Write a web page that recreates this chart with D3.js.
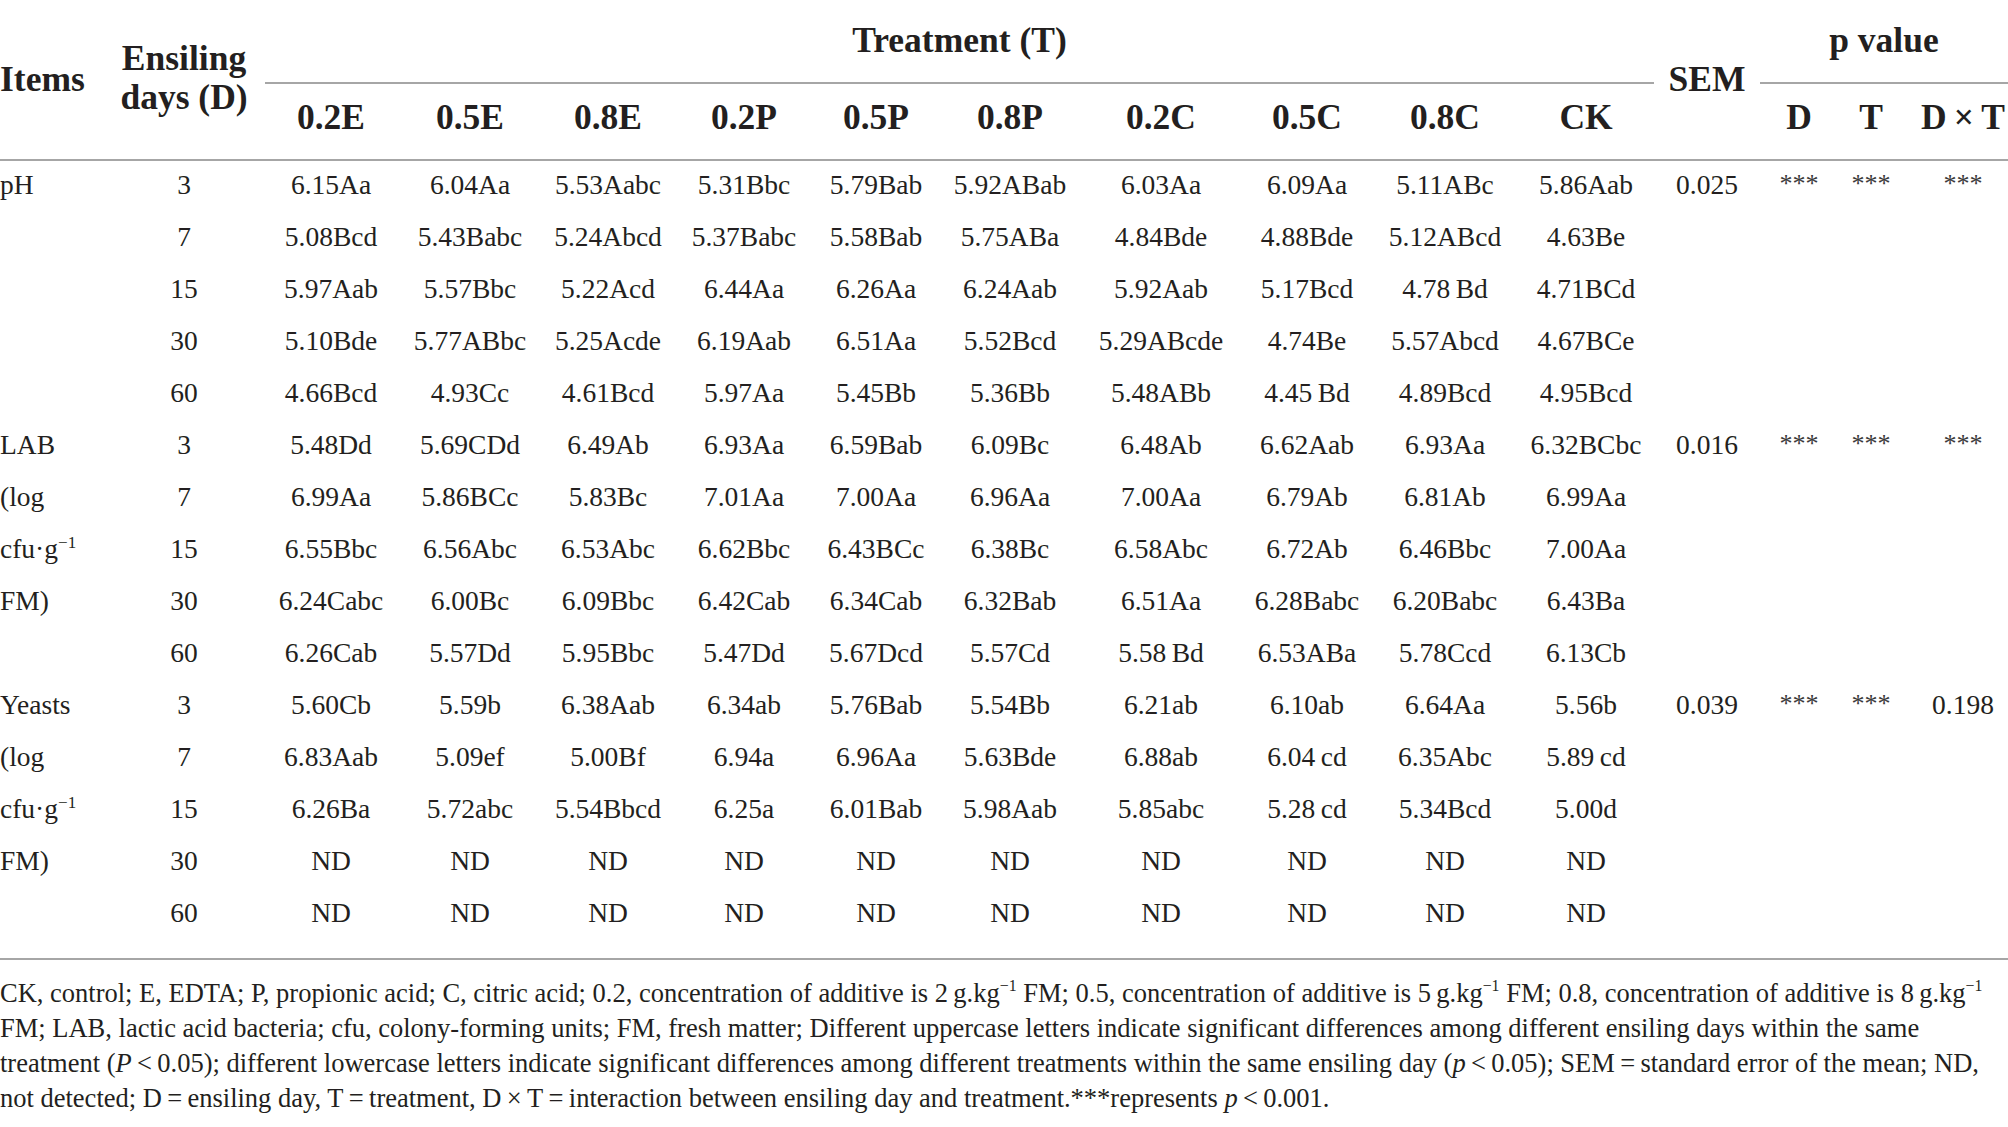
<!DOCTYPE html>
<html>
<head>
<meta charset="utf-8">
<script src="https://cdn.jsdelivr.net/npm/d3@7"></script>
<style>
  body { margin: 0; background: #fff; }
  svg { display: block; }
</style>
</head>
<body>
<svg id="chart"></svg>
<script>
// table values
const treatments = ["0.2E", "0.5E", "0.8E", "0.2P", "0.5P", "0.8P", "0.2C", "0.5C", "0.8C", "CK"];
const ensilingDays = ["3", "7", "15", "30", "60"];
const pColumns = ["D", "T", "D\u2009×\u2009T"];

const phValues = [
  ["6.15Aa", "6.04Aa", "5.53Aabc", "5.31Bbc", "5.79Bab", "5.92ABab", "6.03Aa", "6.09Aa", "5.11ABc", "5.86Aab"],
  ["5.08Bcd", "5.43Babc", "5.24Abcd", "5.37Babc", "5.58Bab", "5.75ABa", "4.84Bde", "4.88Bde", "5.12ABcd", "4.63Be"],
  ["5.97Aab", "5.57Bbc", "5.22Acd", "6.44Aa", "6.26Aa", "6.24Aab", "5.92Aab", "5.17Bcd", "4.78\u2009Bd", "4.71BCd"],
  ["5.10Bde", "5.77ABbc", "5.25Acde", "6.19Aab", "6.51Aa", "5.52Bcd", "5.29ABcde", "4.74Be", "5.57Abcd", "4.67BCe"],
  ["4.66Bcd", "4.93Cc", "4.61Bcd", "5.97Aa", "5.45Bb", "5.36Bb", "5.48ABb", "4.45\u2009Bd", "4.89Bcd", "4.95Bcd"]
];
const labValues = [
  ["5.48Dd", "5.69CDd", "6.49Ab", "6.93Aa", "6.59Bab", "6.09Bc", "6.48Ab", "6.62Aab", "6.93Aa", "6.32BCbc"],
  ["6.99Aa", "5.86BCc", "5.83Bc", "7.01Aa", "7.00Aa", "6.96Aa", "7.00Aa", "6.79Ab", "6.81Ab", "6.99Aa"],
  ["6.55Bbc", "6.56Abc", "6.53Abc", "6.62Bbc", "6.43BCc", "6.38Bc", "6.58Abc", "6.72Ab", "6.46Bbc", "7.00Aa"],
  ["6.24Cabc", "6.00Bc", "6.09Bbc", "6.42Cab", "6.34Cab", "6.32Bab", "6.51Aa", "6.28Babc", "6.20Babc", "6.43Ba"],
  ["6.26Cab", "5.57Dd", "5.95Bbc", "5.47Dd", "5.67Dcd", "5.57Cd", "5.58\u2009Bd", "6.53ABa", "5.78Ccd", "6.13Cb"]
];
const yeastValues = [
  ["5.60Cb", "5.59b", "6.38Aab", "6.34ab", "5.76Bab", "5.54Bb", "6.21ab", "6.10ab", "6.64Aa", "5.56b"],
  ["6.83Aab", "5.09ef", "5.00Bf", "6.94a", "6.96Aa", "5.63Bde", "6.88ab", "6.04\u2009cd", "6.35Abc", "5.89\u2009cd"],
  ["6.26Ba", "5.72abc", "5.54Bbcd", "6.25a", "6.01Bab", "5.98Aab", "5.85abc", "5.28\u2009cd", "5.34Bcd", "5.00d"],
  ["ND", "ND", "ND", "ND", "ND", "ND", "ND", "ND", "ND", "ND"],
  ["ND", "ND", "ND", "ND", "ND", "ND", "ND", "ND", "ND", "ND"]
];
// item labels: "|" marks the start of a superscript
const itemLabels = [
  ["pH"],
  ["LAB", "(log", "cfu·g|\u22121", "FM)"],
  ["Yeasts", "(log", "cfu·g|\u22121", "FM)"]
];
const semValues = ["0.025", "0.016", "0.039"];
const pValuesD = ["***", "***", "***"];
const pValuesT = ["***", "***", "***"];
const pValuesDT = ["***", "***", "0.198"];

// footnote lines, segments: [text, style] with style "" | "i" (italic) | "sup"
const footLines = [
  [["CK, control; E, EDTA; P, propionic acid; C, citric acid; 0.2, concentration of additive is 2\u2009g.kg", ""], ["\u22121", "sup"],
   [" FM; 0.5, concentration of additive is 5\u2009g.kg", ""], ["\u22121", "sup"],
   [" FM; 0.8, concentration of additive is 8\u2009g.kg", ""], ["\u22121", "sup"]],
  [["FM; LAB, lactic acid bacteria; cfu, colony-forming units; FM, fresh matter; Different uppercase letters indicate significant differences among different ensiling days within the same", ""]],
  [["treatment (", ""], ["P", "i"], ["\u2009<\u20090.05); different lowercase letters indicate significant differences among different treatments within the same ensiling day (", ""],
   ["p", "i"], ["\u2009<\u20090.05); SEM\u2009=\u2009standard error of the mean; ND,", ""]],
  [["not detected; D\u2009=\u2009ensiling day, T\u2009=\u2009treatment, D\u2009×\u2009T\u2009=\u2009interaction between ensiling day and treatment.***represents ", ""],
   ["p", "i"], ["\u2009<\u20090.001.", ""]]
];

// layout
const WIDTH = 2008, HEIGHT = 1127;
const FONT = "'Liberation Serif', 'Times New Roman', serif";
const TEXT_COLOR = "#231f20";
const RULE_COLOR = "#a6a6a6";
const DATA_SIZE = 27.5;
const HEAD_SIZE = 35.5;
const FOOT_SIZE = 26.5;

const svg = d3.select("#chart").attr("width", WIDTH).attr("height", HEIGHT)
  .style("font-family", FONT).attr("fill", TEXT_COLOR);

const columns = ["days", ...treatments, "SEM", ...pColumns];
const colX = d3.scaleOrdinal()
  .domain(columns)
  .range([184, 331, 470, 608, 744, 876, 1010, 1161, 1307, 1445, 1586, 1707, 1799, 1871, 1963]);

const groups = [phValues, labValues, yeastValues];
const nRows = groups.length * ensilingDays.length;
const rowY = d3.scaleLinear().domain([0, nRows - 1]).range([184, 912]);

// rules
const rules = [
  { x1: 265, x2: 1654, y: 83 },
  { x1: 1760, x2: WIDTH, y: 83 },
  { x1: 0, x2: WIDTH, y: 160 },
  { x1: 0, x2: WIDTH, y: 959 }
];
svg.selectAll("line.rule").data(rules).join("line")
  .attr("class", "rule")
  .attr("x1", d => d.x1).attr("x2", d => d.x2)
  .attr("y1", d => d.y).attr("y2", d => d.y)
  .attr("stroke", RULE_COLOR).attr("stroke-width", 2);

// header
const head = svg.append("g").attr("font-weight", "bold").attr("font-size", HEAD_SIZE);
const headLabels = [
  { t: "Items", x: 0, y: 79, anchor: "start" },
  { t: "Ensiling", x: colX("days"), y: 58, anchor: "middle" },
  { t: "days (D)", x: colX("days"), y: 97, anchor: "middle" },
  { t: "Treatment (T)", x: (265 + 1654) / 2, y: 40, anchor: "middle" },
  { t: "SEM", x: colX("SEM"), y: 79, anchor: "middle" },
  { t: "p value", x: (1760 + WIDTH) / 2, y: 40, anchor: "middle" }
];
head.selectAll("text.hl").data(headLabels).join("text")
  .attr("class", "hl")
  .attr("x", d => d.x).attr("y", d => d.y)
  .attr("dy", "0.35em")
  .attr("text-anchor", d => d.anchor)
  .text(d => d.t);

head.selectAll("text.sub").data([...treatments, ...pColumns]).join("text")
  .attr("class", "sub")
  .attr("x", d => colX(d)).attr("y", 117)
  .attr("dy", "0.35em")
  .attr("text-anchor", "middle")
  .text(d => d);

// body
const body = svg.append("g").attr("font-size", DATA_SIZE);

const rows = [];
groups.forEach((g, gi) => {
  g.forEach((vals, di) => {
    rows.push({ gi, di, vals, idx: gi * ensilingDays.length + di });
  });
});

const rowG = body.selectAll("g.row").data(rows).join("g")
  .attr("class", "row")
  .attr("transform", d => `translate(0,${rowY(d.idx)})`);

rowG.append("text")
  .attr("x", colX("days")).attr("dy", "0.35em")
  .attr("text-anchor", "middle")
  .text(d => ensilingDays[d.di]);

rowG.selectAll("text.val").data(d => d.vals.map((v, i) => ({ v, col: treatments[i] }))).join("text")
  .attr("class", "val")
  .attr("x", d => colX(d.col)).attr("dy", "0.35em")
  .attr("text-anchor", "middle")
  .text(d => d.v);

// item labels
rowG.filter(d => d.di < itemLabels[d.gi].length)
  .append("text")
  .attr("x", 0).attr("dy", "0.35em")
  .each(function (d) {
    const [base, sup] = itemLabels[d.gi][d.di].split("|");
    const t = d3.select(this);
    t.append("tspan").text(base);
    if (sup) t.append("tspan").attr("font-size", DATA_SIZE * 0.62).attr("baseline-shift", "60%").text(sup);
  });

// SEM and p values, on the first row of each group
const firstRows = rowG.filter(d => d.di === 0);
firstRows.append("text")
  .attr("x", colX("SEM")).attr("dy", "0.35em")
  .attr("text-anchor", "middle")
  .text(d => semValues[d.gi]);

const pSets = [pValuesD, pValuesT, pValuesDT];
firstRows.each(function (d) {
  const g = d3.select(this);
  pSets.forEach((set, k) => {
    const v = set[d.gi];
    const star = v.startsWith("*");
    g.append("text")
      .attr("x", colX(pColumns[k]))
      .attr("dy", star ? "0.3em" : "0.35em")
      .attr("font-size", star ? DATA_SIZE * 0.95 : DATA_SIZE)
      .attr("fill", star ? "#3a3a3a" : null)
      .attr("text-anchor", "middle")
      .text(v);
  });
});

// footnote
const footY = d3.scaleLinear().domain([0, footLines.length - 1]).range([1002, 1107]);
const foot = svg.append("g").attr("font-size", FOOT_SIZE);
foot.selectAll("text").data(footLines).join("text")
  .attr("x", 0).attr("y", (d, i) => footY(i))
  .each(function (segs) {
    const t = d3.select(this);
    segs.forEach(([txt, style]) => {
      const s = t.append("tspan").text(txt);
      if (style === "sup") s.attr("font-size", FOOT_SIZE * 0.6).attr("baseline-shift", "70%");
      if (style === "i") s.attr("font-style", "italic");
    });
  });
</script>
</body>
</html>
